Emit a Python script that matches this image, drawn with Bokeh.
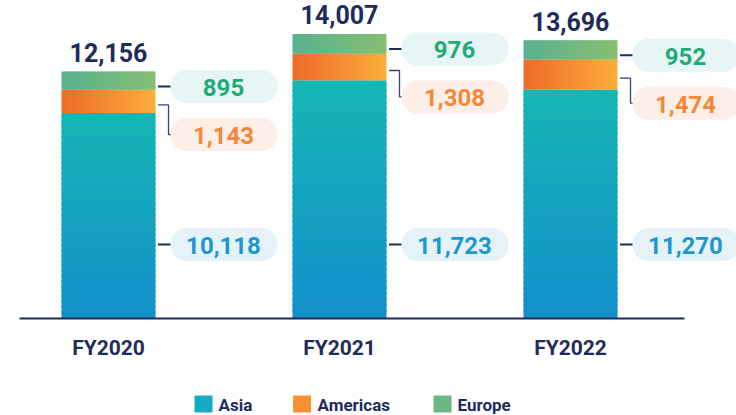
import numpy as np
from bokeh.plotting import figure
from bokeh.models import ColumnDataSource, Range1d
from bokeh.core.properties import value
from bokeh.embed import file_html
from bokeh.resources import INLINE

# ---------------- data ----------------
years = ["FY2020", "FY2021", "FY2022"]
asia = [10118, 11723, 11270]
americas = [1143, 1308, 1474]
europe = [895, 976, 952]
totals = [12156, 14007, 13696]
series = ["Asia", "Americas", "Europe"]

# ---------------- layout constants ----------------
W, H = 736, 415
PXY = 0.020319          # pixels per data unit (vertical)
PXX = 231.0             # pixels per category step
X0 = -108.0 / PXX
BASE = 318.0            # baseline distance from top (px)
NAVY = "#1F2B5B"
FONT = value("Roboto")


def dx(px):
    return px / PXX


def dy(px):
    return px / PXY


def hex2rgb(c):
    c = c.lstrip("#")
    return np.array([int(c[i:i + 2], 16) for i in (0, 2, 4)], dtype=float)


def lerp(c1, c2, t):
    a, b = hex2rgb(c1), hex2rgb(c2)
    r = a + (b - a) * t
    return "#%02x%02x%02x" % tuple(int(round(v)) for v in r)


p = figure(width=W, height=H, output_backend="svg", toolbar_location=None,
           x_range=Range1d(X0, X0 + W / PXX),
           y_range=Range1d(-(H - BASE) / PXY, BASE / PXY),
           min_border=0, outline_line_color=None,
           x_axis_location=None, y_axis_location=None)
p.grid.visible = False
p.background_fill_color = "white"
p.border_fill_color = "white"

HALF = dx(47)
xs = np.arange(len(years), dtype=float)

# ---------------- gradient bars ----------------
L, R, B, T, C = [], [], [], [], []
NV = 40
NH = 24
for i, xc in enumerate(xs):
    a = asia[i]
    for k in range(NV):
        b = a * k / NV
        t = a * (k + 1) / NV
        if k < NV - 1:
            t += a * 0.5 / NV
        L.append(xc - HALF); R.append(xc + HALF); B.append(b); T.append(t)
        C.append(lerp("#1290CA", "#16B6B4", k / (NV - 1)))
    b0 = asia[i]
    t0 = asia[i] + americas[i]
    w = 2 * HALF / NH
    for k in range(NH):
        l = xc - HALF + k * w
        r = l + w + (0.5 * w if k < NH - 1 else 0)
        L.append(l); R.append(r); B.append(b0); T.append(t0)
        C.append(lerp("#EF6C2A", "#FAAD3A", k / (NH - 1)))
    b1 = t0
    t1 = t0 + europe[i]
    for k in range(NH):
        l = xc - HALF + k * w
        r = l + w + (0.5 * w if k < NH - 1 else 0)
        L.append(l); R.append(r); B.append(b1); T.append(t1)
        C.append(lerp("#5AB28F", "#86BE72", k / (NH - 1)))

p.quad(left="l", right="r", bottom="b", top="t", fill_color="c", line_color=None,
       source=ColumnDataSource(dict(l=L, r=R, b=B, t=T, c=C)))

# ---------------- baseline ----------------
p.segment(x0=[X0 + dx(19)], x1=[X0 + dx(684)], y0=[0], y1=[0],
          line_color=NAVY, line_width=2)

# ---------------- totals ----------------
p.text(x=xs, y=[t + dy(19) for t in totals], text=[f"{v:,}" for v in totals],
       text_align="center", text_baseline="middle", text_font=FONT,
       text_font_size="25px", text_font_style="bold", text_color=NAVY)

# ---------------- category labels ----------------
p.text(x=xs, y=[-dy(29)] * 3, text=years, text_align="center",
       text_baseline="middle", text_font=FONT, text_font_size="21px",
       text_font_style="bold", text_color=NAVY)

# ---------------- pills ----------------
eu_top = [asia[i] + americas[i] + europe[i] for i in range(3)]
am_mid = [asia[i] + americas[i] / 2 for i in range(3)]
eu_pill = [t - dy(15) for t in eu_top]
am_pill = [e - dy(48) for e in eu_pill]
as_pill = [dy(74)] * 3
am_start = [m - dy(3.5) for m in am_mid]

pill_specs = [
    (as_pill, asia, "#E5F3F9", "#1B98CF"),
    (am_pill, americas, "#FDEFE7", "#F5873A"),
    (eu_pill, europe, "#E6F6F5", "#1FAA78"),
]
for ys, vals, bg, fg in pill_specs:
    p.quad(left=[x + dx(62) for x in xs], right=[x + dx(169) for x in xs],
           bottom=[y - dy(16.5) for y in ys], top=[y + dy(16.5) for y in ys],
           fill_color=bg, line_color=None, border_radius=16)
    p.text(x=[x + dx(115) for x in xs], y=ys, text=[f"{v:,}" for v in vals],
           text_align="center", text_baseline="middle", y_offset=1,
           text_font=FONT, text_font_size="24px", text_font_style="bold",
           text_color=fg)

# ---------------- connectors ----------------
for ys in (eu_pill, as_pill):
    p.segment(x0=[x + dx(49.5) for x in xs], x1=[x + dx(62) for x in xs],
              y0=ys, y1=ys, line_color=NAVY, line_width=2)
p.multi_line(
    xs=[[x + dx(49.5), x + dx(60), x + dx(60), x + dx(62)] for x in xs],
    ys=[[s, s, e, e] for s, e in zip(am_start, am_pill)],
    line_color="#3A4272", line_width=1.3)

# ---------------- legend ----------------
leg_y = -dy(85.5)
sq_x = [X0 + dx(203), X0 + dx(301.5), X0 + dx(442)]
tx_x = [X0 + dx(218), X0 + dx(317), X0 + dx(457)]
p.rect(x=sq_x, y=[leg_y] * 3, width=18, height=17, width_units="screen",
       height_units="screen", fill_color=["#15ACC0", "#F7922F", "#6BB883"],
       line_color=None)
p.text(x=tx_x, y=[leg_y] * 3, text=series, text_align="left",
       text_baseline="middle", y_offset=1, text_font=FONT, text_font_size="17px",
       text_font_style="bold", text_color=NAVY)

open("out.html", "w").write(file_html(p, INLINE))
